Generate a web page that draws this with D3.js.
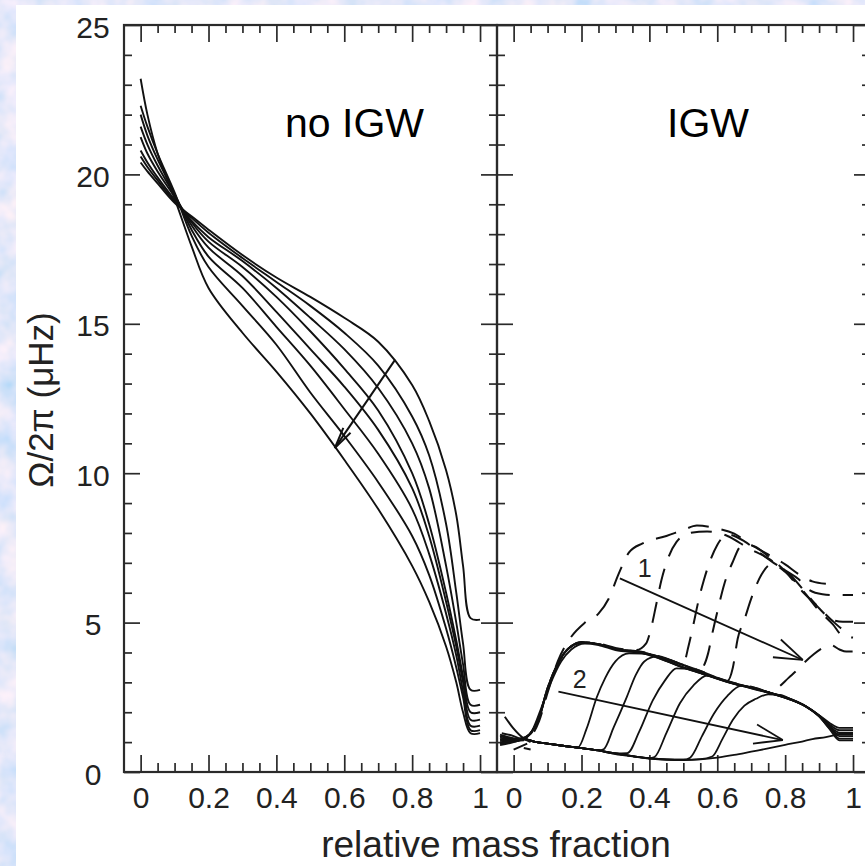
<!DOCTYPE html>
<html><head><meta charset="utf-8">
<script src="https://cdn.jsdelivr.net/npm/d3@7"></script>
<style>html,body{margin:0;padding:0;background:#bcd0f5;}svg{display:block;}</style>
</head><body>
<script>
// ---------------- DATA ----------------
const xTickMajor = [0, 0.2, 0.4, 0.6, 0.8, 1];
const xTickLabels = ["0", "0.2", "0.4", "0.6", "0.8", "1"];
const yTickMajor = [0, 5, 10, 15, 20, 25];
const yTickLabels = ["0", "5", "10", "15", "20", "25"];
const panelTitles = ["no IGW", "IGW"];
const xTitle = "relative mass fraction";
const yTitle = "Ω/2π (μHz)";

// left panel (no IGW): common mass-fraction grid, 8 profiles (outer -> inner)
const noIgwX = [0, 0.02, 0.05, 0.1, 0.15, 0.2, 0.3, 0.4, 0.5, 0.6, 0.7, 0.8, 0.85, 0.9, 0.93, 0.95, 0.972, 1.0];
const noIgwOmega = [
  [20.4, 20.1, 19.7, 19.05, 18.6, 18.15, 17.3, 16.55, 15.9, 15.2, 14.4, 12.95, 11.75, 10.1, 8.6, 6.9, 5.15, 5.1],
  [20.6, 20.25, 19.8, 19.1, 18.55, 18.05, 17.2, 16.4, 15.6, 14.7, 13.6, 11.9, 10.6, 8.3, 6.0, 4.3, 2.75, 2.75],
  [20.8, 20.4, 19.9, 19.15, 18.45, 17.9, 17.1, 16.2, 15.2, 14.15, 12.85, 11.0, 9.5, 6.9, 5.0, 3.6, 2.25, 2.25],
  [21.25, 20.7, 20.1, 19.25, 18.4, 17.75, 16.9, 15.9, 14.75, 13.5, 12.1, 10.0, 8.3, 6.0, 4.4, 3.2, 2.0, 2.0],
  [21.6, 21.0, 20.3, 19.3, 18.3, 17.55, 16.6, 15.4, 14.15, 12.9, 11.45, 9.5, 7.9, 5.7, 4.2, 3.0, 1.75, 1.75],
  [22.0, 21.3, 20.5, 19.35, 18.15, 17.25, 16.2, 14.9, 13.6, 12.15, 10.65, 8.8, 7.3, 5.3, 3.9, 2.7, 1.55, 1.55],
  [22.3, 21.6, 20.7, 19.4, 17.95, 16.9, 15.6, 14.3, 12.7, 11.25, 9.7, 7.9, 6.6, 4.8, 3.5, 2.5, 1.4, 1.4],
  [23.2, 22.0, 20.7, 19.2, 17.6, 16.2, 14.7, 13.4, 12.0, 10.45, 8.8, 6.9, 5.7, 4.2, 3.0, 2.0, 1.3, 1.3]
];
const noIgwArrow = [[0.75, 13.8], [0.572, 10.84]];

// right panel (IGW): solid family "2"  ([mass fraction, Omega/2pi])
const igwSolid = [
  [[-0.04,1.15],[0,1.08],[0.03,1.1],[0.055,1.4],[0.08,2.1],[0.11,3.0],[0.14,3.7],[0.17,4.1],[0.21,4.3],[0.25,4.25],[0.3,4.08],[0.38,3.97],[0.45,3.72],[0.5,3.5],[0.55,3.32],[0.63,3.02],[0.7,2.82],[0.76,2.64],[0.82,2.42],[0.86,2.2],[0.9,1.9],[0.93,1.65],[0.96,1.48],[1.0,1.48]],
  [[-0.04,1.05],[0,1.05],[0.03,1.1],[0.06,1.02],[0.1,0.95],[0.15,0.87],[0.19,0.83],[0.215,1.45],[0.245,2.5],[0.27,3.15],[0.3,3.7],[0.34,3.97],[0.38,3.96],[0.45,3.71],[0.5,3.49],[0.55,3.31],[0.63,3.01],[0.7,2.81],[0.76,2.63],[0.82,2.41],[0.86,2.21],[0.9,1.9],[0.93,1.6],[0.96,1.4],[1.0,1.4]],
  [[-0.04,1.25],[0,1.12],[0.03,1.1],[0.06,1.02],[0.1,0.95],[0.15,0.87],[0.2,0.8],[0.25,0.73],[0.265,0.76],[0.295,1.5],[0.333,2.5],[0.36,3.25],[0.385,3.7],[0.42,3.86],[0.45,3.73],[0.5,3.5],[0.55,3.32],[0.63,3.02],[0.7,2.82],[0.76,2.63],[0.82,2.4],[0.86,2.2],[0.9,1.88],[0.93,1.55],[0.96,1.32],[1.0,1.32]],
  [[-0.04,0.95],[0,1.02],[0.03,1.1],[0.06,1.02],[0.1,0.95],[0.15,0.87],[0.2,0.8],[0.25,0.72],[0.3,0.62],[0.335,0.63],[0.37,1.35],[0.41,2.4],[0.445,3.05],[0.48,3.47],[0.52,3.45],[0.55,3.33],[0.63,3.03],[0.7,2.83],[0.76,2.64],[0.82,2.42],[0.86,2.21],[0.9,1.88],[0.93,1.52],[0.96,1.25],[1.0,1.25]],
  [[-0.04,1.2],[0,1.1],[0.03,1.1],[0.06,1.02],[0.1,0.95],[0.15,0.87],[0.2,0.8],[0.25,0.72],[0.3,0.62],[0.35,0.53],[0.4,0.46],[0.415,0.5],[0.45,1.3],[0.49,2.3],[0.53,2.9],[0.57,3.23],[0.61,3.12],[0.65,2.96],[0.7,2.8],[0.76,2.62],[0.82,2.4],[0.86,2.19],[0.9,1.86],[0.93,1.5],[0.96,1.2],[1.0,1.2]],
  [[-0.04,1.0],[0,1.05],[0.03,1.1],[0.06,1.02],[0.1,0.95],[0.15,0.87],[0.2,0.8],[0.25,0.72],[0.3,0.62],[0.35,0.53],[0.4,0.46],[0.45,0.42],[0.5,0.41],[0.52,0.48],[0.555,1.2],[0.59,1.95],[0.63,2.55],[0.67,2.88],[0.71,2.82],[0.76,2.63],[0.82,2.41],[0.86,2.2],[0.9,1.87],[0.93,1.47],[0.96,1.12],[1.0,1.12]],
  [[-0.04,1.1],[0,1.08],[0.03,1.1],[0.06,1.02],[0.1,0.95],[0.15,0.87],[0.2,0.8],[0.25,0.72],[0.3,0.62],[0.35,0.53],[0.4,0.46],[0.45,0.42],[0.5,0.41],[0.55,0.43],[0.585,0.52],[0.615,1.1],[0.646,1.75],[0.68,2.22],[0.714,2.45],[0.75,2.6],[0.785,2.58],[0.82,2.42],[0.86,2.2],[0.9,1.86],[0.93,1.45],[0.96,1.06],[1.0,1.06]],
  [[-0.04,0.9],[0,1.0],[0.03,1.1],[0.06,1.02],[0.1,0.95],[0.15,0.87],[0.2,0.8],[0.25,0.72],[0.3,0.6],[0.35,0.52],[0.4,0.45],[0.45,0.41],[0.5,0.4],[0.55,0.42],[0.6,0.48],[0.65,0.57],[0.7,0.68],[0.75,0.79],[0.8,0.91],[0.85,1.02],[0.88,1.1],[0.92,1.17],[0.95,1.24],[0.97,1.3],[1.0,1.3]]
];

// right panel (IGW): dashed family "1"
const igwDashed = [
  [[-0.03,1.0],[0.02,1.05],[0.05,1.2],[0.075,1.7],[0.1,2.65],[0.13,3.7],[0.165,4.45],[0.21,5.0],[0.25,5.3],[0.28,5.8],[0.31,6.65],[0.34,7.35],[0.38,7.65],[0.45,7.9],[0.5,8.1],[0.54,8.25],[0.6,8.15],[0.65,7.98],[0.7,7.6],[0.75,7.28],[0.8,6.95],[0.84,6.62],[0.88,6.38],[0.92,6.3]],
  [[-0.03,1.1],[0.02,1.1],[0.05,1.3],[0.075,1.85],[0.1,2.8],[0.13,3.6],[0.16,4.1],[0.2,4.35],[0.25,4.3],[0.3,4.15],[0.36,4.08],[0.39,4.3],[0.406,4.86],[0.42,5.6],[0.435,6.4],[0.455,7.15],[0.48,7.7],[0.52,8.0],[0.57,8.05],[0.63,7.9],[0.69,7.5],[0.75,7.15],[0.8,6.75],[0.84,6.45],[0.87,6.1],[0.91,5.95],[0.95,5.92],[1.0,5.92]],
  [[-0.03,0.95],[0.02,1.08],[0.05,1.28],[0.075,1.8],[0.1,2.78],[0.13,3.62],[0.16,4.12],[0.2,4.33],[0.25,4.28],[0.3,4.12],[0.38,4.02],[0.45,3.8],[0.5,3.62],[0.515,4.2],[0.53,4.95],[0.545,5.75],[0.56,6.4],[0.58,7.1],[0.6,7.6],[0.63,7.95],[0.68,7.72],[0.72,7.38],[0.76,7.05],[0.81,6.65],[0.87,5.87],[0.9,5.48],[0.94,5.09],[0.97,5.03],[1.0,5.03]],
  [[-0.03,1.2],[0.02,1.1],[0.05,1.3],[0.075,1.82],[0.1,2.8],[0.13,3.62],[0.16,4.12],[0.2,4.33],[0.25,4.28],[0.3,4.12],[0.38,4.0],[0.45,3.78],[0.5,3.58],[0.545,3.4],[0.56,3.55],[0.573,3.97],[0.587,4.72],[0.602,5.45],[0.621,6.3],[0.646,7.04],[0.67,7.55],[0.7,7.58],[0.75,7.22],[0.8,6.72],[0.85,6.05],[0.9,5.5],[0.94,5.05],[0.979,4.75],[1.0,4.75]],
  [[-0.03,1.05],[0.02,1.1],[0.05,1.3],[0.075,1.82],[0.1,2.8],[0.13,3.62],[0.16,4.12],[0.2,4.33],[0.25,4.28],[0.3,4.12],[0.38,4.0],[0.45,3.78],[0.5,3.58],[0.55,3.38],[0.6,3.15],[0.63,3.05],[0.646,3.5],[0.66,4.45],[0.68,5.1],[0.7,5.8],[0.73,6.6],[0.76,6.95],[0.8,6.7],[0.85,6.1],[0.9,5.4],[0.94,4.95],[0.97,4.55],[1.0,4.5]],
  [[-0.03,1.0],[0.02,1.1],[0.05,1.3],[0.075,1.82],[0.1,2.8],[0.13,3.62],[0.16,4.12],[0.2,4.33],[0.25,4.28],[0.3,4.12],[0.38,4.0],[0.45,3.78],[0.5,3.58],[0.55,3.38],[0.6,3.15],[0.65,2.98],[0.7,2.85],[0.76,2.66],[0.783,2.86],[0.81,3.15],[0.836,3.42],[0.86,3.7],[0.885,3.95],[0.91,4.15],[0.935,4.25],[0.96,4.1],[0.98,4.03],[1.0,4.03]]
];
const igwKnot = [
  [[-0.026,1.85],[0.0,1.45],[0.03,1.12],[0.05,1.0]],
  [[-0.04,0.95],[-0.01,1.05],[0.03,1.15]],
  [[-0.035,1.3],[0.0,1.2],[0.03,1.05]],
  [[0.0,0.75],[0.02,0.85],[0.04,0.95]],
  [[0.03,0.8],[0.05,0.75]]
];
const igwArrow1 = [[0.313, 6.48], [0.852, 3.75]];
const igwArrow2 = [[0.132, 2.69], [0.793, 1.07]];
const igwLabels = [{t: "1", x: 0.386, v: 6.53}, {t: "2", x: 0.195, v: 2.81}];

// ---------------- LAYOUT ----------------
const W = 865, H = 866;
const yTop = 25, yBot = 772;
const xDomain = [-0.049, 1.05];
const xL = d3.scaleLinear().domain(xDomain).range([124, 497]);
const xR = d3.scaleLinear().domain(xDomain).range([497, 870]);
const y = d3.scaleLinear().domain([0, 25]).range([yBot, yTop]);
const xMinor = d3.range(0, 1.0001, 0.05).filter(v => Math.abs(v / 0.2 - Math.round(v / 0.2)) > 1e-6);
const yMinor = d3.range(0, 25.5, 1).filter(v => v % 5 !== 0);
const FONT = "'Liberation Sans', Arial, Helvetica, sans-serif";
const INK = "#111", AX = "#2a2a2a";

const svg = d3.select("body").append("svg").attr("width", W).attr("height", H).attr("viewBox", `0 0 ${W} ${H}`);
const defs = svg.append("defs");
const f = defs.append("filter").attr("id", "tex").attr("x", 0).attr("y", 0).attr("width", 1).attr("height", 1);
f.append("feTurbulence").attr("type", "fractalNoise").attr("baseFrequency", "0.035").attr("numOctaves", 3).attr("seed", 7);
f.append("feColorMatrix").attr("type", "matrix").attr("values",
  "0.7 0 0 0 0.42  0.25 0 0 0 0.68  0 0 0.08 0 0.91  0 0 0 0 1");
svg.append("rect").attr("width", W).attr("height", H).attr("filter", "url(#tex)");
svg.append("rect").attr("x", 16).attr("y", 5).attr("width", W - 16).attr("height", H - 5).attr("fill", "#ffffff");

defs.append("clipPath").attr("id", "clipL").append("rect").attr("x", 124).attr("y", yTop).attr("width", 373).attr("height", yBot - yTop);
defs.append("clipPath").attr("id", "clipR").append("rect").attr("x", 497).attr("y", yTop).attr("width", 373).attr("height", yBot - yTop);

// ---------------- AXES / FRAMES ----------------
function styleAxis(g) {
  g.select(".domain").remove();
  g.selectAll(".tick line").attr("stroke", AX).attr("stroke-width", 1.7);
}
[xL, xR].forEach(xs => {
  svg.append("g").attr("transform", `translate(0,${yTop})`).call(d3.axisBottom(xs).tickValues(xTickMajor).tickSize(17).tickFormat("")).call(styleAxis);
  svg.append("g").attr("transform", `translate(0,${yTop})`).call(d3.axisBottom(xs).tickValues(xMinor).tickSize(8).tickFormat("")).call(styleAxis);
  svg.append("g").attr("transform", `translate(0,${yBot})`).call(d3.axisTop(xs).tickValues(xTickMajor).tickSize(17).tickFormat("")).call(styleAxis);
  svg.append("g").attr("transform", `translate(0,${yBot})`).call(d3.axisTop(xs).tickValues(xMinor).tickSize(9).tickFormat("")).call(styleAxis);
  const lab = svg.append("g").attr("transform", `translate(0,${yBot})`)
    .call(d3.axisBottom(xs).tickValues(xTickMajor).tickSize(0).tickPadding(15).tickFormat((d, i) => xTickLabels[i]));
  lab.select(".domain").remove();
  lab.selectAll("text").attr("font-family", FONT).attr("font-size", 30).attr("fill", "#222");
});
const vEdges = [{x: 124, dir: "right"}, {x: 497, dir: "left"}, {x: 497, dir: "right"}, {x: 870, dir: "left"}];
vEdges.forEach(e => {
  const mk = e.dir === "right" ? d3.axisRight : d3.axisLeft;
  svg.append("g").attr("transform", `translate(${e.x},0)`).call(mk(y).tickValues(yTickMajor).tickSize(16).tickFormat("")).call(styleAxis);
  svg.append("g").attr("transform", `translate(${e.x},0)`).call(mk(y).tickValues(yMinor).tickSize(8).tickFormat("")).call(styleAxis);
});
const ylab = svg.append("g").attr("transform", `translate(124,0)`)
  .call(d3.axisLeft(y).tickValues(yTickMajor).tickSize(0).tickFormat((d, i) => yTickLabels[i]));
ylab.select(".domain").remove();
ylab.selectAll("text").attr("x", -31).attr("dy", "0.4em").attr("text-anchor", "middle")
  .attr("font-family", FONT).attr("font-size", 30).attr("fill", "#222");

[[124, 497], [497, 870]].forEach(([a, b]) => {
  svg.append("rect").attr("x", a).attr("y", yTop).attr("width", b - a).attr("height", yBot - yTop)
    .attr("fill", "none").attr("stroke", AX).attr("stroke-width", 2.2);
});

// ---------------- CURVES ----------------
const gL = svg.append("g").attr("clip-path", "url(#clipL)");
const gR = svg.append("g").attr("clip-path", "url(#clipR)");
const lineL = d3.line().x((d, i) => xL(noIgwX[i])).y(d => y(d)).curve(d3.curveCatmullRom.alpha(0.5));
noIgwOmega.forEach(c => {
  gL.append("path").attr("d", lineL(c)).attr("fill", "none").attr("stroke", INK).attr("stroke-width", 1.9);
});
const lineR = d3.line().x(d => xR(d[0])).y(d => y(d[1])).curve(d3.curveMonotoneX);
igwSolid.forEach(c => {
  gR.append("path").attr("d", lineR(c)).attr("fill", "none").attr("stroke", INK).attr("stroke-width", 1.8);
});
const offs = [0, 11, 22, 6, 17, 28];
igwDashed.forEach((c, i) => {
  gR.append("path").attr("d", lineR(c)).attr("fill", "none").attr("stroke", INK).attr("stroke-width", 2)
    .attr("stroke-dasharray", "21,13").attr("stroke-dashoffset", offs[i % offs.length]);
});
igwKnot.forEach(c => {
  gR.append("path").attr("d", lineR(c)).attr("fill", "none").attr("stroke", INK).attr("stroke-width", 2);
});

// ---------------- ARROWS ----------------
function arrow(g, xs, pts, len, ang, w) {
  const [p0, p1] = pts;
  const x0 = xs(p0[0]), y0 = y(p0[1]), x1 = xs(p1[0]), y1 = y(p1[1]);
  g.append("line").attr("x1", x0).attr("y1", y0).attr("x2", x1).attr("y2", y1).attr("stroke", INK).attr("stroke-width", w);
  const th = Math.atan2(y1 - y0, x1 - x0);
  [ang, -ang].forEach(a => {
    g.append("line").attr("x1", x1).attr("y1", y1)
      .attr("x2", x1 - len * Math.cos(th + a)).attr("y2", y1 - len * Math.sin(th + a))
      .attr("stroke", INK).attr("stroke-width", w);
  });
}
arrow(svg, xL, noIgwArrow, 22, 0.2, 2);
arrow(svg, xR, igwArrow1, 30, 0.33, 1.8);
arrow(svg, xR, igwArrow2, 30, 0.33, 1.8);
igwLabels.forEach(l => {
  svg.append("text").attr("x", xR(l.x)).attr("y", y(l.v)).attr("text-anchor", "middle")
    .attr("font-family", FONT).attr("font-size", 25).attr("fill", "#222").text(l.t);
});

// ---------------- TEXT ----------------
svg.append("text").attr("x", 285).attr("y", 137).attr("font-family", FONT).attr("font-size", 41).attr("fill", "#000").text(panelTitles[0]);
svg.append("text").attr("x", 667).attr("y", 137).attr("font-family", FONT).attr("font-size", 41).attr("fill", "#000").text(panelTitles[1]);
svg.append("text").attr("x", 496).attr("y", 857).attr("text-anchor", "middle").attr("font-family", FONT).attr("font-size", 37).attr("fill", "#222").text(xTitle);
svg.append("text").attr("transform", "translate(53,400) rotate(-90)").attr("text-anchor", "middle")
  .attr("font-family", FONT).attr("font-size", 35).attr("fill", "#222").text(yTitle);
</script>
</body></html>
